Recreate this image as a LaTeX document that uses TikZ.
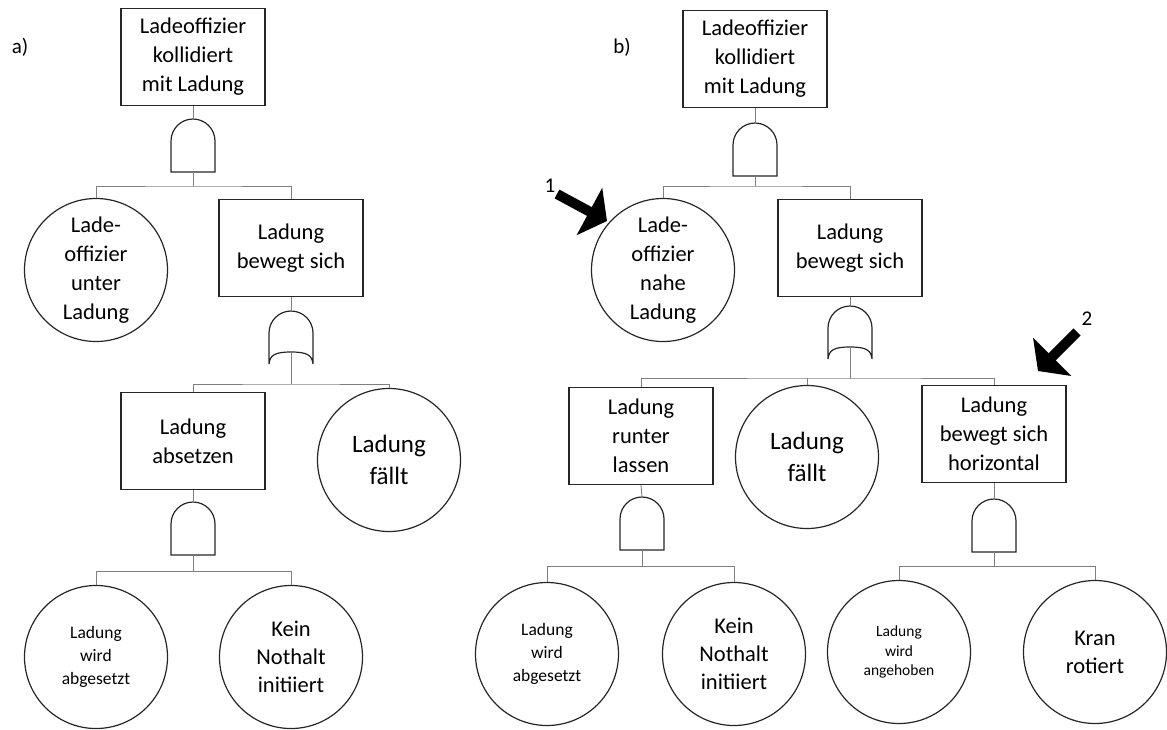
\documentclass[tikz,border=0pt]{standalone}
\usepackage{fontspec}
\setmainfont{Carlito}
\usepackage{tikz}
\usetikzlibrary{arrows.meta}
\definecolor{lineGray}{HTML}{7F7F7F}
\definecolor{edgeDark}{HTML}{262626}
\newcommand{\txt}[2]{\fontsize{#1}{#2}\selectfont}

% gates: input on top at (0,0), output below
\tikzset{
  andgate/.pic={
    \draw[gate] (-22,-53) -- (-22,-22) arc[start angle=180, end angle=0, radius=22] -- (22,-53) -- cycle;
    \coordinate (-in) at (0,0);
    \coordinate (-out) at (0,-53);
  },
  orgate/.pic={
    \draw[gate] (-22,-53) -- (-22,-22) arc[start angle=180, end angle=0, radius=22] -- (22,-53)
      .. controls (21,-44) and (16,-41) .. (0,-41)
      .. controls (-16,-41) and (-21,-44) .. (-22,-53) -- cycle;
    \coordinate (-in) at (0,0);
    \coordinate (-out) at (0,-41);
  }
}

\begin{document}
\begin{tikzpicture}[
  x=1pt, y=1pt,
  box/.style={draw=edgeDark, line width=1.4pt, align=center, inner sep=2pt,
              minimum width=144pt, minimum height=97pt, font=\txt{22.5}{29}},
  ev/.style={circle, draw=edgeDark, line width=1.2pt, align=center, inner sep=0pt,
             minimum size=143pt, font=\txt{22.5}{29}},
  gate/.style={draw=edgeDark, line width=1.2pt},
  link/.style={draw=lineGray, line width=0.9pt},
  pointer/.style={line width=10pt, -{Triangle[length=20pt, width=53pt]}},
  tag/.style={font=\txt{21}{25}}
]
\useasboundingbox (0,0) rectangle (1167,-729);

%% a)
\node[tag] (lblA) at (20,-47) {a)};
\node[box] (topA) at (193,-57) {Ladeoffizier\\kollidiert\\mit Ladung};
\pic (ga1) at (193,-119) {andgate};
\node[ev] (louA) at (96,-270) {Lade-\\offizier\\unter\\Ladung};
\node[box] (bewA) at (291,-248) {Ladung\\bewegt sich};
\pic (ga2) at (291,-311) {orgate};
\node[box] (absA) at (193,-441) {Ladung\\absetzen};
\node[ev, font=\txt{25}{32}] (falA) at (389,-460) {Ladung\\fällt};
\pic (ga3) at (193,-502) {andgate};
\node[ev, font=\txt{17.5}{23}] (wirA) at (96,-657) {Ladung\\wird\\abgesetzt};
\node[ev, font=\txt{22.5}{28}] (keiA) at (291,-657) {Kein\\Nothalt\\initiiert};

\coordinate (busA1) at (193,-186);
\coordinate (busA2) at (291,-384);
\coordinate (busA3) at (193,-571);

\draw[link] (topA.south) -- (ga1-in);
\draw[link] (ga1-out) -- (busA1);
\draw[link] (louA.north) |- (busA1) -| (bewA.north);
\draw[link] (bewA.south) -- (ga2-in);
\draw[link] (ga2-out) -- (busA2);
\draw[link] (absA.north) |- (busA2) -| (falA.north);
\draw[link] (absA.south) -- (ga3-in);
\draw[link] (ga3-out) -- (busA3);
\draw[link] (wirA.north) |- (busA3) -| (keiA.north);

%% b)
\node[tag] (lblB) at (622,-47) {b)};
\node[box] (topB) at (755,-59) {Ladeoffizier\\kollidiert\\mit Ladung};
\pic (gb1) at (755,-123) {andgate};
\node[ev] (lonB) at (663,-270) {Lade-\\offizier\\nahe\\Ladung};
\node[box] (bewB) at (850,-248) {Ladung\\bewegt sich};
\pic (gb2) at (850,-306) {orgate};
\node[box] (runB) at (641,-436) {Ladung\\runter\\lassen};
\node[ev, font=\txt{25}{32}] (falB) at (807,-457) {Ladung\\fällt};
\node[box] (horB) at (994,-434) {Ladung\\bewegt sich\\horizontal};
\pic (gb3) at (642,-497) {andgate};
\pic (gb4) at (994,-499) {andgate};
\node[ev, font=\txt{17.5}{23}] (wirB) at (547,-654) {Ladung\\wird\\abgesetzt};
\node[ev, font=\txt{22.5}{28}] (keiB) at (734,-654) {Kein\\Nothalt\\initiiert};
\node[ev, font=\txt{15.5}{19.5}] (angB) at (899,-652) {Ladung\\wird\\angehoben};
\node[ev, font=\txt{22.5}{28}] (kraB) at (1095,-652) {Kran\\rotiert};

\coordinate (busB1) at (755,-186);
\coordinate (busB2) at (850,-378);
\coordinate (busB3) at (642,-566);
\coordinate (busB4) at (994,-566);

\draw[link] (topB.south) -- (gb1-in);
\draw[link] (gb1-out) -- (busB1);
\draw[link] (lonB.north) |- (busB1) -| (bewB.north);
\draw[link] (bewB.south) -- (gb2-in);
\draw[link] (gb2-out) -- (busB2);
\draw[link] (runB.north) |- (busB2) -| (horB.north);
\draw[link] (falB.north) -- (falB.north |- busB2);
\draw[link] (runB.south) -- (gb3-in);
\draw[link] (gb3-out) -- (busB3);
\draw[link] (wirB.north) |- (busB3) -| (keiB.north);
\draw[link] (horB.south) -- (gb4-in);
\draw[link] (gb4-out) -- (busB4);
\draw[link] (angB.north) |- (busB4) -| (kraB.north);

% markers 1 and 2
\node[tag] (num1) at (550,-186) {1};
\coordinate (tail1) at (557,-194);
\coordinate (tip1) at (607,-221);
\draw[pointer] (tail1) -- (tip1);
\node[tag] (num2) at (1087,-319) {2};
\coordinate (tail2) at (1077,-332);
\coordinate (tip2) at (1038,-371);
\draw[pointer] (tail2) -- (tip2);
\end{tikzpicture}
\end{document}
